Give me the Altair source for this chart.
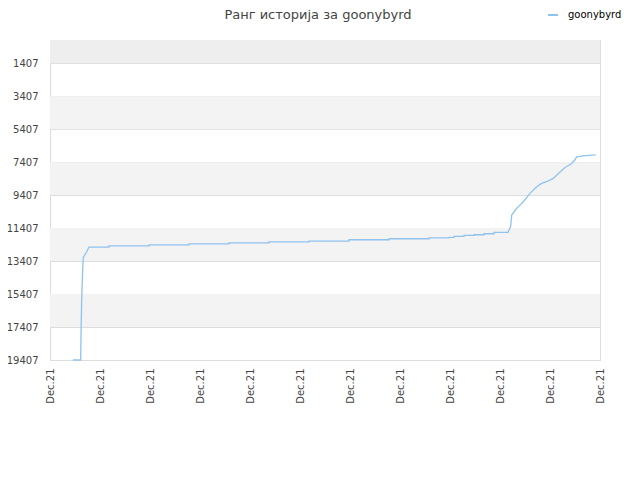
import altair as alt
import pandas as pd

# ---- data ----
series_name = "goonybyrd"
x_pos = [0.46, 0.614, 0.62, 0.634, 0.654, 0.666, 0.734, 0.78,
         1.18, 1.18, 1.98, 1.98, 2.78, 2.78, 3.58, 3.58, 4.38, 4.38,
         5.18, 5.18, 5.98, 5.98, 6.78, 6.78, 7.58, 7.58, 7.98, 7.98,
         8.08, 8.08, 8.28, 8.28, 8.48, 8.48, 8.68, 8.68, 8.88, 8.88,
         9.16, 9.214, 9.234, 9.334, 9.466, 9.6, 9.734, 9.834, 9.966,
         10.066, 10.2, 10.3, 10.434, 10.494, 10.534, 10.666, 10.914]
ranks = [19407, 19407, 17950, 15700, 13890, 13180, 12840, 12560,
         12560, 12480, 12480, 12420, 12420, 12360, 12360, 12300, 12300, 12240,
         12240, 12195, 12195, 12115, 12115, 12055, 12055, 11995, 11995, 11970,
         11970, 11910, 11910, 11850, 11850, 11810, 11810, 11750, 11750, 11670,
         11670, 11286, 10620, 10210, 9810, 9300, 8900, 8700, 8540,
         8395, 8000, 7730, 7490, 7280, 7090, 7025, 6964]

x_ticks = list(range(12))
x_tick_label = "Dec.21"
y_ticks = [1407, 3407, 5407, 7407, 9407, 11407, 13407, 15407, 17407, 19407]

band_start = [0, 3407, 7407, 11407, 15407]
band_end = [1407, 5407, 9407, 13407, 17407]
band_fill = ["#eeeeee", "#f3f3f3", "#f3f3f3", "#f3f3f3", "#f3f3f3"]

title_text = "Ранг историја за goonybyrd"

line_df = pd.DataFrame({"x": x_pos, "rank": ranks,
                        "i": list(range(len(x_pos))),
                        "series": [series_name] * len(x_pos)})
band_df = pd.DataFrame({"y0": band_start, "y1": band_end, "fill": band_fill})

W, H = 550, 320
FONT = "DejaVu Sans"

y_scale = alt.Scale(domain=[0, 19407], reverse=True, nice=False, zero=False)
x_scale = alt.Scale(domain=[0, 11], nice=False, zero=False)

y_axis = alt.Axis(values=y_ticks, format="d", grid=True, gridColor="#dddddd",
                  ticks=False, labelPadding=12, labelFont=FONT,
                  labelFontSize=10, labelColor="#444444",
                  domainColor="#dddddd", labelOverlap=False)

bands = alt.Chart(band_df).mark_rect().encode(
    x=alt.value(0),
    x2=alt.value(W),
    y=alt.Y("y0:Q", scale=y_scale, axis=y_axis, title=None),
    y2="y1:Q",
    fill=alt.Fill("fill:N", scale=None),
)

line = alt.Chart(line_df).mark_line(strokeWidth=1.3).encode(
    x=alt.X("x:Q", scale=x_scale, title=None,
            axis=alt.Axis(values=x_ticks, labelExpr=f"'{x_tick_label}'",
                          labelAngle=270, labelAlign="right", labelBaseline="middle",
                          grid=False, ticks=False, labelPadding=8,
                          labelFont=FONT, labelFontSize=10, labelColor="#444444",
                          domainColor="#dddddd")),
    y=alt.Y("rank:Q", scale=y_scale, title=None, axis=y_axis),
    order=alt.Order("i:Q"),
    color=alt.Color("series:N", scale=alt.Scale(range=["#90c2f0"]),
                    legend=alt.Legend(orient="none", legendX=497, legendY=-31,
                                      title=None, symbolType="stroke",
                                      symbolSize=100, symbolStrokeWidth=2,
                                      labelFont=FONT, labelFontSize=10,
                                      labelColor="#000000", labelOffset=9,
                                      padding=0)),
)

chart = alt.layer(bands, line).properties(
    width=W, height=H,
    title=alt.TitleParams(title_text, font=FONT, fontSize=13, fontWeight="normal",
                          color="#444444", anchor="middle", dx=-7, offset=0, dy=13),
    autosize=alt.AutoSizeParams(type="none"),
    padding={"left": 42, "top": 32, "right": 32, "bottom": 100},
).configure_view(stroke="#dddddd").configure(background="white")

chart.save("out.html", embed_options={"renderer": "svg", "actions": False})
